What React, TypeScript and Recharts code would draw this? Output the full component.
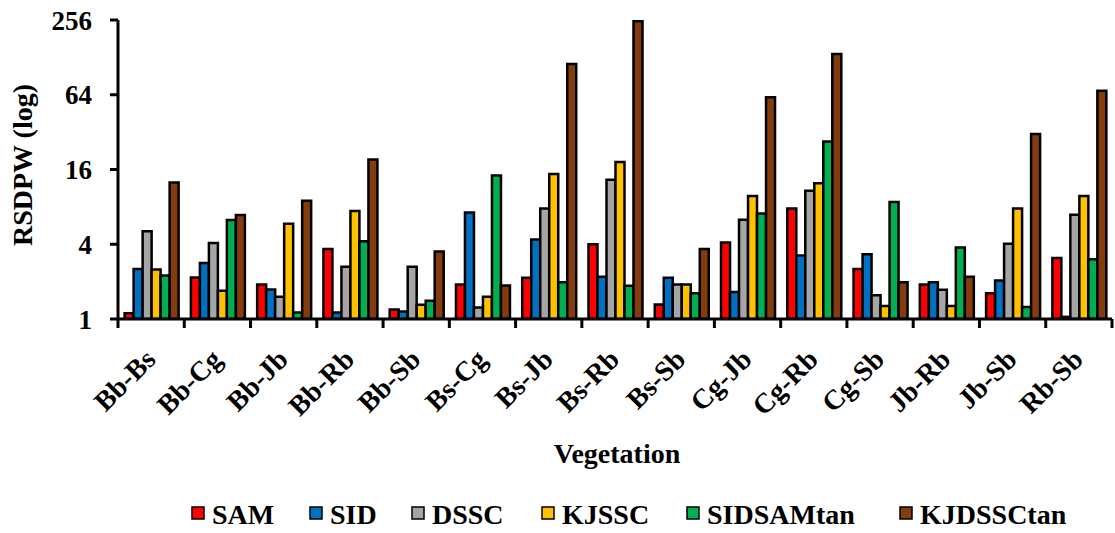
import React from 'react';
import { BarChart, Bar, XAxis, YAxis, Legend, Label } from 'recharts';

const categories = [
  'Bb-Bs', 'Bb-Cg', 'Bb-Jb', 'Bb-Rb', 'Bb-Sb', 'Bs-Cg', 'Bs-Jb', 'Bs-Rb',
  'Bs-Sb', 'Cg-Jb', 'Cg-Rb', 'Cg-Sb', 'Jb-Rb', 'Jb-Sb', 'Rb-Sb',
];
const sam = [1.11, 2.16, 1.9, 3.67, 1.19, 1.9, 2.15, 4.0, 1.31, 4.13, 7.78, 2.53, 1.9, 1.61, 3.1];
const sid = [2.53, 2.83, 1.73, 1.13, 1.15, 7.2, 4.36, 2.19, 2.15, 1.65, 3.25, 3.33, 1.98, 2.04, 1.04];
const dssc = [5.1, 4.1, 1.51, 2.63, 2.63, 1.24, 7.78, 13.2, 1.9, 6.3, 10.8, 1.55, 1.72, 4.03, 6.9];
const kjssc = [2.5, 1.69, 5.86, 7.4, 1.3, 1.51, 14.7, 18.4, 1.9, 9.8, 12.4, 1.27, 1.27, 7.78, 9.8];
const sidsamtan = [2.24, 6.27, 1.13, 4.23, 1.4, 14.3, 1.98, 1.85, 1.61, 7.06, 26.9, 8.75, 3.76, 1.25, 3.03];
const kjdssctan = [12.6, 6.87, 8.97, 19.3, 3.5, 1.86, 113, 250, 3.67, 61, 136, 1.98, 2.19, 30.9, 69];
const yTicks = [1, 4, 16, 64, 256];

const series = [
  { key: 'SAM', values: sam, color: '#FF0000' },
  { key: 'SID', values: sid, color: '#0070C0' },
  { key: 'DSSC', values: dssc, color: '#A5A5A5' },
  { key: 'KJSSC', values: kjssc, color: '#FFC000' },
  { key: 'SIDSAMtan', values: sidsamtan, color: '#00B050' },
  { key: 'KJDSSCtan', values: kjdssctan, color: '#843C0C' },
];

const data = categories.map((name, i) => {
  const row: Record<string, string | number> = { name };
  series.forEach((s) => { row[s.key] = s.values[i]; });
  return row;
});

const CHART_W = 1115;
const CHART_H = 533;
const Y_AXIS_W = 118;
const MARGIN_RIGHT = 3;
const PLOT_BOTTOM = 319;
const BAND = (CHART_W - Y_AXIS_W - MARGIN_RIGHT) / categories.length;
const FONT = 'Liberation Serif';

// legend swatch x positions
const legendX = [192, 310, 412, 542, 687, 900];

// tick marks sit on the category boundaries, labels run up at 45 degrees
const CategoryTick = ({ x, payload, index }: any) => {
  const left = x - BAND / 2;
  const lx = x + 6;
  const ly = PLOT_BOTTOM + 42;
  return (
    <g>
      <line x1={left} x2={left} y1={PLOT_BOTTOM} y2={PLOT_BOTTOM + 9} stroke="#000" strokeWidth={3} />
      {index === categories.length - 1 && (
        <line x1={x + BAND / 2} x2={x + BAND / 2} y1={PLOT_BOTTOM} y2={PLOT_BOTTOM + 9} stroke="#000" strokeWidth={3} />
      )}
      <text
        x={lx}
        y={ly}
        textAnchor="end"
        transform={`rotate(-45 ${lx} ${ly})`}
        fontFamily={FONT}
        fontWeight="bold"
        fontSize={28}
        fill="#000"
      >
        {payload.value}
      </text>
    </g>
  );
};

const LegendContent = () => (
  <svg width={CHART_W} height={40} style={{ display: 'block' }}>
    {series.map((s, i) => (
      <g key={s.key}>
        <rect x={legendX[i]} y={14} width={12} height={12} fill={s.color} stroke="#000" strokeWidth={1.5} />
        <text
          x={legendX[i] + 20}
          y={31}
          fontFamily={FONT}
          fontWeight="bold"
          fontSize={28}
          fill="#000"
        >
          {s.key}
        </text>
      </g>
    ))}
  </svg>
);

export default function App() {
  return (
    <div style={{ position: 'absolute', left: 0, top: 0 }}>
      <BarChart
        width={CHART_W}
        height={CHART_H}
        data={data}
        margin={{ top: 20, right: MARGIN_RIGHT, left: 0, bottom: 0 }}
        barCategoryGap="10%"
        barGap={0}
      >
        <XAxis
          dataKey="name"
          interval={0}
          height={174}
          axisLine={{ stroke: '#000', strokeWidth: 3 }}
          tickLine={false}
          tick={<CategoryTick />}
        >
          <Label
            content={() => (
              <text x={617} y={463} textAnchor="middle" fontFamily={FONT} fontWeight="bold" fontSize={28} fill="#000">
                Vegetation
              </text>
            )}
          />
        </XAxis>
        <YAxis
          scale="log"
          domain={[1, 256]}
          allowDataOverflow
          ticks={yTicks}
          width={Y_AXIS_W}
          axisLine={{ stroke: '#000', strokeWidth: 3 }}
          tickLine={{ stroke: '#000', strokeWidth: 3 }}
          tickSize={8}
          tickMargin={18}
          tick={{ fill: '#000', fontFamily: FONT, fontWeight: 'bold', fontSize: 27 }}
        >
          <Label
            content={() => (
              <text
                x={32}
                y={165}
                textAnchor="middle"
                transform="rotate(-90 32 165)"
                fontFamily={FONT}
                fontWeight="bold"
                fontSize={28}
                fill="#000"
              >
                RSDPW (log)
              </text>
            )}
          />
        </YAxis>
        <Legend
          verticalAlign="bottom"
          content={<LegendContent />}
          wrapperStyle={{ left: 0, width: CHART_W, bottom: 0, height: 40 }}
        />
        {series.map((s) => (
          <Bar
            key={s.key}
            dataKey={s.key}
            fill={s.color}
            stroke="#000"
            strokeWidth={2.5}
            isAnimationActive={false}
          />
        ))}
      </BarChart>
    </div>
  );
}
